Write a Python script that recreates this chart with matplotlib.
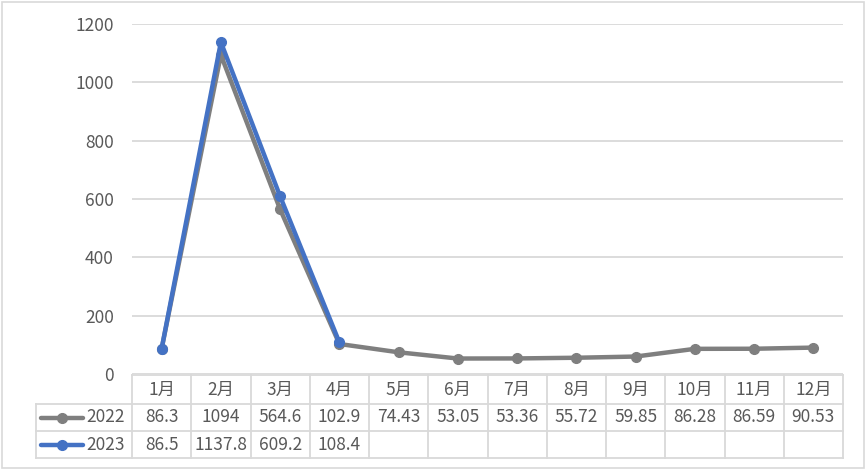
import numpy as np
import matplotlib
matplotlib.use("Agg")
import matplotlib.pyplot as plt
from matplotlib.lines import Line2D
from matplotlib.patches import Rectangle

plt.rcParams['font.family'] = ['Noto Sans CJK SC', 'DejaVu Sans']

# data
months = ['1月', '2月', '3月', '4月', '5月', '6月', '7月', '8月', '9月', '10月', '11月', '12月']
v2022 = [86.3, 1094, 564.6, 102.9, 74.43, 53.05, 53.36, 55.72, 59.85, 86.28, 86.59, 90.53]
v2023 = [86.5, 1137.8, 609.2, 108.4]
lbl2022 = ['86.3', '1094', '564.6', '102.9', '74.43', '53.05', '53.36', '55.72', '59.85', '86.28', '86.59', '90.53']
lbl2023 = ['86.5', '1137.8', '609.2', '108.4']
yticks = [0, 200, 400, 600, 800, 1000, 1200]

W, H = 867, 470
grid_c = '#d9d9d9'
txt_c = '#595959'
c22 = '#7f7f7f'
c23 = '#4472c4'
fs = 12.5

fig = plt.figure(figsize=(W / 100, H / 100), dpi=100)
fig.patch.set_facecolor('white')

# outer chart border
fig.add_artist(Rectangle((1.5 / W, 2.5 / H), (864 - 1.5) / W, (468 - 2.5) / H,
                         transform=fig.transFigure, fill=False, edgecolor=grid_c, lw=1.2))

# plot area: x 132..843, y 24..374
x0, x1 = 132, 843
ax = fig.add_axes([x0 / W, (H - 374) / H, (x1 - x0) / W, (374 - 24) / H])
ax.set_xlim(-0.5, 11.5)
ax.set_ylim(0, 1200)
for s in ax.spines.values():
    s.set_visible(False)
ax.set_yticks(yticks)
ax.set_yticklabels([str(t) for t in yticks], fontsize=12.5, color=txt_c)
ax.tick_params(axis='y', length=0, pad=13)
ax.set_xticks([])
ax.grid(axis='y', color=grid_c, lw=1.3)
ax.set_axisbelow(True)

x = np.arange(len(months))
ax.plot(x, v2022, color=c22, lw=3.2, marker='o', ms=7, solid_capstyle='round', clip_on=False, zorder=3)
ax.plot(x[:len(v2023)], v2023, color=c23, lw=3.2, marker='o', ms=7, solid_capstyle='round', clip_on=False, zorder=4)

# data table below, rows: header 375..404, 2022 404..431, 2023 431..458
tx = fig.add_axes([x0 / W, (H - 458) / H, (x1 - x0) / W, (458 - 375) / H])
tx.set_xlim(-0.5, 11.5)
rows = [375, 404, 431, 458]
tx.set_ylim(458, 375)
tx.axis('off')
left = -0.5 - (x0 - 36) / ((x1 - x0) / 12)

lk = dict(color=grid_c, lw=1.3, clip_on=False)
# horizontal lines
tx.plot([-0.5, 11.5], [rows[0], rows[0]], **lk)
for r in rows[1:]:
    tx.plot([left, 11.5], [r, r], **lk)
# vertical lines
for i in range(13):
    tx.plot([i - 0.5, i - 0.5], [rows[0], rows[3]], **lk)
tx.plot([left, left], [rows[1], rows[3]], **lk)

for i, m in enumerate(months):
    tx.text(i, (rows[0] + rows[1]) / 2, m, ha='center', va='center', fontsize=fs, color=txt_c)
for i, t in enumerate(lbl2022):
    tx.text(i, (rows[1] + rows[2]) / 2, t, ha='center', va='center', fontsize=fs, color=txt_c)
for i, t in enumerate(lbl2023):
    tx.text(i, (rows[2] + rows[3]) / 2, t, ha='center', va='center', fontsize=fs, color=txt_c)

# legend keys in row headers
px = (x1 - x0) / 12
def key(row, color, label):
    yc = (rows[row] + rows[row + 1]) / 2
    xa = -0.5 - (x0 - 41) / px
    xb = -0.5 - (x0 - 83) / px
    tx.add_line(Line2D([xa, xb], [yc, yc], color=color, lw=3.2, solid_capstyle='round', clip_on=False))
    tx.add_line(Line2D([(xa + xb) / 2], [yc], color=color, marker='o', ms=7, clip_on=False))
    tx.text(-0.5 - (x0 - 86) / px, yc, label, ha='left', va='center', fontsize=fs, color=txt_c)

key(1, c22, '2022')
key(2, c23, '2023')

fig.savefig('out.png', dpi=100, facecolor='white')
